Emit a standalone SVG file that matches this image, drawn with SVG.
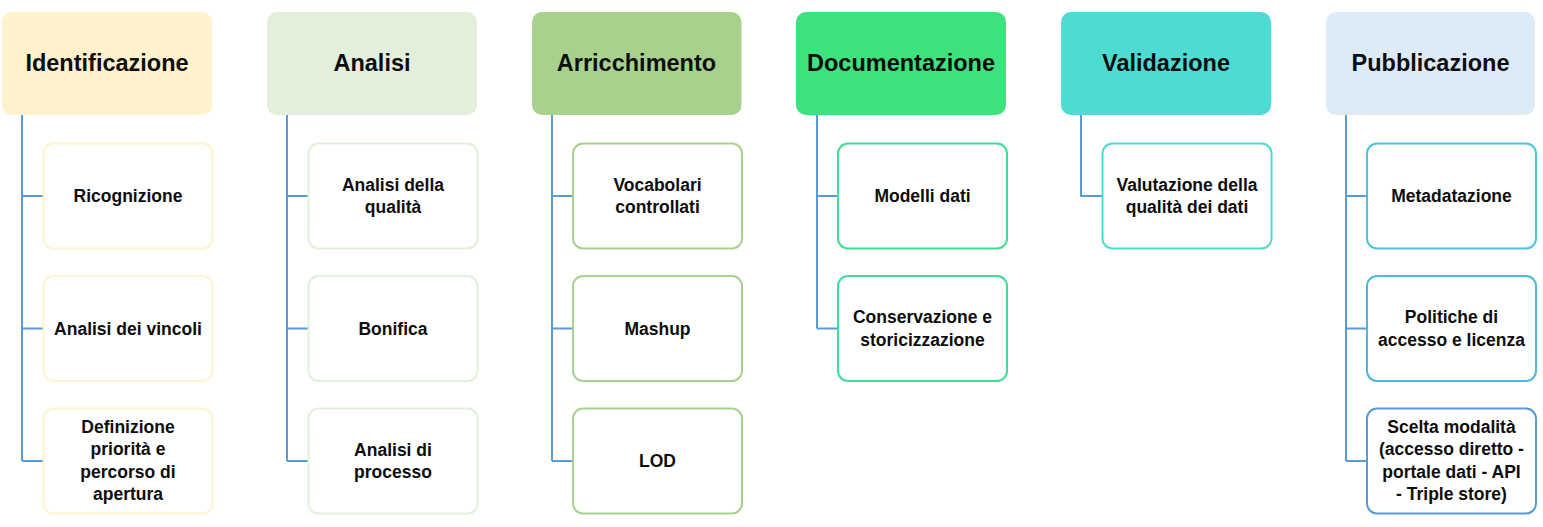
<svg xmlns="http://www.w3.org/2000/svg" width="1543" height="527" viewBox="0 0 1543 527">
<style>
.hdr{stroke:none}
.hdr-t{font-family:"Liberation Sans",Arial,sans-serif;font-weight:bold;font-size:23.5px;fill:#0d0d0d;text-anchor:middle}
.ch{fill:#ffffff;stroke-width:2}
.ch-t{font-family:"Liberation Sans",Arial,sans-serif;font-weight:bold;font-size:17.5px;fill:#0d0d0d;text-anchor:middle}
.conn{fill:none;stroke:#5b9bd5;stroke-width:2}
</style>
<rect width="1543" height="527" fill="#ffffff"/>
<g id="connectors">
  <path class="conn" d="M22,115 V461 M22,196 H43.5 M22,328.5 H43.5 M22,461 H43.5"/>
  <path class="conn" d="M287,115 V461 M287,196 H308.5 M287,328.5 H308.5 M287,461 H308.5"/>
  <path class="conn" d="M552,115 V461 M552,196 H573 M552,328.5 H573 M552,461 H573"/>
  <path class="conn" d="M817,115 V328.5 M817,196 H838 M817,328.5 H838"/>
  <path class="conn" d="M1081,115 V196 H1102.5"/>
  <path class="conn" d="M1346,115 V461 M1346,196 H1367 M1346,328.5 H1367 M1346,461 H1367"/>
</g>

<!-- Column 1 -->
<g id="identificazione">
  <rect class="hdr" x="2" y="12" width="210" height="103" rx="10" fill="#fff2cc"/>
  <text class="hdr-t" x="107" y="71">Identificazione</text>
</g>
<g id="ricognizione">
  <rect class="ch" x="43.5" y="143.5" width="169" height="105" rx="10" stroke="#fff2cc"/>
  <text class="ch-t" x="128" y="202">Ricognizione</text>
</g>
<g id="analisi-vincoli">
  <rect class="ch" x="43.5" y="276" width="169" height="105" rx="10" stroke="#fff2cc"/>
  <text class="ch-t" x="128" y="334.5">Analisi dei vincoli</text>
</g>
<g id="definizione-priorita">
  <rect class="ch" x="43.5" y="408.5" width="169" height="105" rx="10" stroke="#fff2cc"/>
  <text class="ch-t" x="128" y="432.5">Definizione<tspan x="128" dy="22.5">priorità e</tspan><tspan x="128" dy="22.5">percorso di</tspan><tspan x="128" dy="22.5">apertura</tspan></text>
</g>

<!-- Column 2 -->
<g id="analisi">
  <rect class="hdr" x="267" y="12" width="210" height="103" rx="10" fill="#e2efda"/>
  <text class="hdr-t" x="372" y="71">Analisi</text>
</g>
<g id="analisi-qualita">
  <rect class="ch" x="308.5" y="143.5" width="169" height="105" rx="10" stroke="#e2efda"/>
  <text class="ch-t" x="393" y="190.5">Analisi della<tspan x="393" dy="22.5">qualità</tspan></text>
</g>
<g id="bonifica">
  <rect class="ch" x="308.5" y="276" width="169" height="105" rx="10" stroke="#e2efda"/>
  <text class="ch-t" x="393" y="334.5">Bonifica</text>
</g>
<g id="analisi-processo">
  <rect class="ch" x="308.5" y="408.5" width="169" height="105" rx="10" stroke="#e2efda"/>
  <text class="ch-t" x="393" y="455.5">Analisi di<tspan x="393" dy="22.5">processo</tspan></text>
</g>

<!-- Column 3 -->
<g id="arricchimento">
  <rect class="hdr" x="532" y="12" width="209.5" height="103" rx="10" fill="#a9d18e"/>
  <text class="hdr-t" x="636.5" y="71">Arricchimento</text>
</g>
<g id="vocabolari">
  <rect class="ch" x="573" y="143.5" width="169" height="105" rx="10" stroke="#a9d18e"/>
  <text class="ch-t" x="657.5" y="190.5">Vocabolari<tspan x="657.5" dy="22.5">controllati</tspan></text>
</g>
<g id="mashup">
  <rect class="ch" x="573" y="276" width="169" height="105" rx="10" stroke="#a9d18e"/>
  <text class="ch-t" x="657.5" y="334.5">Mashup</text>
</g>
<g id="lod">
  <rect class="ch" x="573" y="408.5" width="169" height="105" rx="10" stroke="#a9d18e"/>
  <text class="ch-t" x="657.5" y="467">LOD</text>
</g>

<!-- Column 4 -->
<g id="documentazione">
  <rect class="hdr" x="796" y="12" width="210" height="103" rx="10" fill="#3de27d"/>
  <text class="hdr-t" x="901" y="71">Documentazione</text>
</g>
<g id="modelli-dati">
  <rect class="ch" x="838" y="143.5" width="169" height="105" rx="10" stroke="#40de95"/>
  <text class="ch-t" x="922.5" y="202">Modelli dati</text>
</g>
<g id="conservazione">
  <rect class="ch" x="838" y="276" width="169" height="105" rx="10" stroke="#40de95"/>
  <text class="ch-t" x="922.5" y="323">Conservazione e<tspan x="922.5" dy="22.5">storicizzazione</tspan></text>
</g>

<!-- Column 5 -->
<g id="validazione">
  <rect class="hdr" x="1061" y="12" width="210" height="103" rx="10" fill="#4ddbd3"/>
  <text class="hdr-t" x="1166" y="71">Validazione</text>
</g>
<g id="valutazione-qualita">
  <rect class="ch" x="1102.5" y="143.5" width="169" height="105" rx="10" stroke="#4ddbd3"/>
  <text class="ch-t" x="1187" y="190.5">Valutazione della<tspan x="1187" dy="22.5">qualità dei dati</tspan></text>
</g>

<!-- Column 6 -->
<g id="pubblicazione">
  <rect class="hdr" x="1326" y="12" width="209" height="103" rx="10" fill="#ddebf7"/>
  <text class="hdr-t" x="1430.5" y="71">Pubblicazione</text>
</g>
<g id="metadatazione">
  <rect class="ch" x="1367" y="143.5" width="169" height="105" rx="10" stroke="#4dc4db"/>
  <text class="ch-t" x="1451.5" y="202">Metadatazione</text>
</g>
<g id="politiche-accesso">
  <rect class="ch" x="1367" y="276" width="169" height="105" rx="10" stroke="#4db8db"/>
  <text class="ch-t" x="1451.5" y="323">Politiche di<tspan x="1451.5" dy="22.5">accesso e licenza</tspan></text>
</g>
<g id="scelta-modalita">
  <rect class="ch" x="1367" y="408.5" width="169" height="105" rx="10" stroke="#5b9bd5"/>
  <text class="ch-t" x="1451.5" y="432.5">Scelta modalità<tspan x="1451.5" dy="22.5">(accesso diretto -</tspan><tspan x="1451.5" dy="22.5">portale dati - API</tspan><tspan x="1451.5" dy="22.5">- Triple store)</tspan></text>
</g>
</svg>
